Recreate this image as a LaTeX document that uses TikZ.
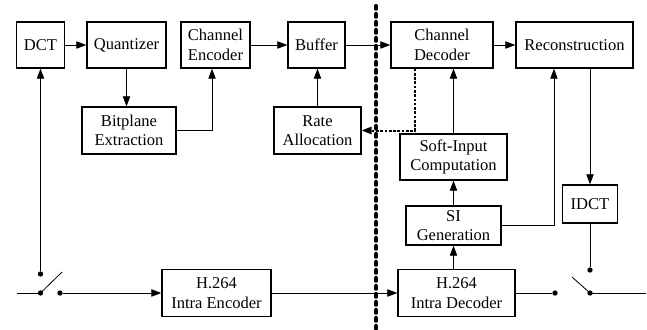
\documentclass[tikz,border=0pt]{standalone}
\usepackage{fontspec}
\setmainfont{Liberation Serif}
\usetikzlibrary{arrows.meta}

\begin{document}
\begin{tikzpicture}[x=0.75pt,y=-0.75pt,
	block/.style = {draw,line width=1pt,inner sep=0pt,align=center,
		font=\fontsize{12.4}{14.6}\selectfont,minimum height=34.5pt},
	arr/.style = {line width=0.6pt,-{Triangle[length=7.5pt,width=5.5pt]}},
	wire/.style = {line width=0.6pt},
	dotarr/.style = {line width=1.5pt,dash pattern=on 2pt off 1.2pt,-{Triangle[length=7.5pt,width=5.5pt]}},
	divider/.style = {line width=3.2pt,line cap=round,dash pattern=on 2pt off 4pt},
	dot/.style = {circle,fill,inner sep=0pt,minimum size=4pt}]
	\useasboundingbox (0,0) rectangle (647,329);

	% encoder side
	\node[block,minimum width=36pt] (dct) at (40.5,45) {DCT};
	\node[block,minimum width=59.25pt] (quant) at (126.5,45) {Quantizer};
	\node[block,minimum width=51.75pt] (chenc) at (215.5,45) {Channel\\Encoder};
	\node[block,minimum width=42.75pt] (buffer) at (316.5,45) {Buffer};
	\node[block,minimum width=70.5pt,minimum height=35.25pt] (bitplane) at (129,130.5) {Bitplane\\Extraction};
	\node[block,minimum width=65.25pt,minimum height=35.25pt] (rate) at (317.5,130.5) {Rate\\Allocation};
	\node[block,minimum width=81.75pt,minimum height=35.25pt] (h264enc) at (216.5,293) {H.264\\Intra Encoder};

	% decoder side
	\node[block,minimum width=76.5pt] (chdec) at (442,45) {Channel\\Decoder};
	\node[block,minimum width=87.75pt] (recon) at (574.5,45) {Reconstruction};
	\node[block,minimum width=80.25pt] (soft) at (453.5,157) {Soft-Input\\Computation};
	\node[block,minimum width=71.25pt,minimum height=29.25pt] (sigen) at (453.5,225.5) {SI\\Generation};
	\node[block,minimum width=41.25pt,minimum height=28.5pt] (idct) at (590,204) {IDCT};
	\node[block,minimum width=87.75pt,minimum height=35.25pt] (h264dec) at (456.5,293) {H.264\\Intra Decoder};

	% switches
	\coordinate (in) at (17,293);
	\node[dot] (sw1a) at (40.5,293) {};
	\node[dot] (sw1b) at (60,293) {};
	\node[dot] (sw1t) at (40.5,274) {};
	\coordinate (sw1e) at (62,272);
	\node[dot] (sw2a) at (555,293) {};
	\node[dot] (sw2b) at (590,293) {};
	\node[dot] (sw2t) at (590,270) {};
	\coordinate (sw2e) at (572,277);
	\coordinate (out) at (646,293);

	\draw[divider] (376,6) -- (376,329);

	\draw[arr] (dct) -- (quant);
	\draw[arr] (quant) -- (quant |- bitplane.north);
	\draw[arr] (bitplane.east) -| ([xshift=-2.6pt]chenc.south);
	\draw[arr] (chenc) -- (buffer);
	\draw[arr] (rate.north) -- (rate.north |- buffer.south);
	\draw[arr] (buffer) -- (chdec);
	\draw[arr] (chdec) -- (recon);
	\draw[dotarr] ([xshift=-20.25pt]chdec.south) |- (rate.east);
	\draw[arr] (soft.north) -- (soft.north |- chdec.south);
	\draw[arr] (sigen) -- (soft);
	\draw[arr] (sigen.south |- h264dec.north) -- (sigen.south);
	\draw[arr] (sigen.east) -| ([xshift=-15.4pt]recon.south);
	\draw[arr] (idct.north |- recon.south) -- (idct.north);

	\draw[wire] (in) -- (sw1a.center);
	\draw[wire] (sw1a.center) -- (sw1e);
	\draw[arr] (sw1b) -- (h264enc);
	\draw[arr] (sw1t) -- (dct);
	\draw[arr] (h264enc) -- (h264dec);
	\draw[wire] (h264dec) -- (sw2a);
	\draw[wire] (sw2e) -- (sw2b.center);
	\draw[wire] (idct) -- (sw2t);
	\draw[wire] (sw2b.center) -- (out);
\end{tikzpicture}
\end{document}
